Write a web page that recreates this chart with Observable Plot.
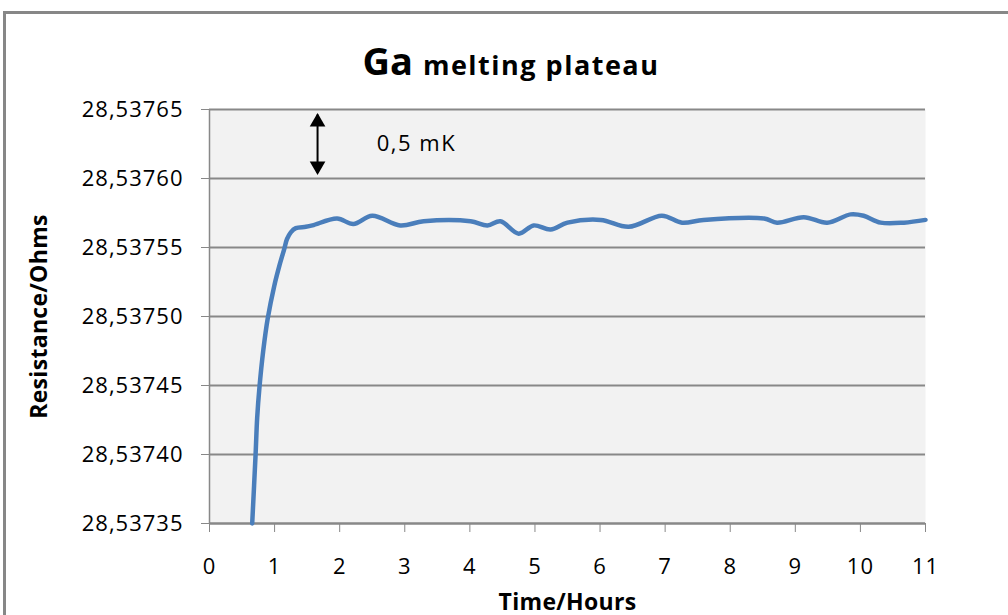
<!DOCTYPE html>
<html>
<head>
<meta charset="utf-8">
<script src="https://cdn.jsdelivr.net/npm/d3@7"></script>
<script src="https://cdn.jsdelivr.net/npm/@observablehq/plot@0.6"></script>
<style>
  html, body { margin: 0; padding: 0; background: #fff; }
  #wrap { position: relative; width: 1008px; height: 615px; overflow: hidden; font-family: "Open Sans", sans-serif; }
  #border { position: absolute; left: 3px; top: 11px; width: 1200px; height: 800px; border-left: 3px solid #878787; border-top: 3px solid #878787; box-sizing: border-box; }
  #title { position: absolute; left: 0; width: 1022px; top: 41px; text-align: center; color: #000; font-size: 38px; line-height: 1; white-space: nowrap; }
  #title .ga { font-size: 38px; font-weight: 700; }
  #title .rest { font-size: 27px; font-weight: 700; letter-spacing: 1.5px; }
  #chart { position: absolute; left: 0; top: 0; }
  #chart g[aria-label="y-axis label"] text, #chart g[aria-label="x-axis label"] text { font-weight: 700; font-size: 23px; letter-spacing: 0.3px; }
  #chart g[aria-label="y-axis tick label"] text, #chart g[aria-label="x-axis tick label"] text { letter-spacing: 1px; }
  #chart g[aria-label="text"] text { letter-spacing: 1.5px; }
</style>
</head>
<body>
<div id="wrap">
  <div id="border"></div>
  <div id="chart"></div>
  <div id="title"><span class="ga">Ga</span> <span class="rest">melting plateau</span></div>
</div>
<script>
// Time in hours
const hours = [0.656, 0.707, 0.733, 0.768, 0.825, 0.896, 0.994, 1.075, 1.149, 1.19, 1.249, 1.326, 1.48, 1.582, 1.96, 2.21, 2.50, 2.93, 3.29, 4.01, 4.27, 4.47, 4.75, 4.98, 5.24, 5.50, 6.01, 6.44, 6.95, 7.26, 7.59, 8.52, 8.72, 9.13, 9.49, 9.85, 10.05, 10.31, 10.67, 11.0];
// Resistance in ohms
const resistance = [28.53735, 28.537399, 28.537427, 28.537449, 28.537475, 28.537499, 28.537522, 28.537537, 28.537549, 28.537556, 28.537561, 28.537564, 28.537565, 28.537566, 28.537571, 28.537567, 28.537573, 28.537566, 28.537569, 28.537569, 28.537566, 28.537569, 28.53756, 28.537566, 28.537563, 28.537568, 28.53757, 28.537565, 28.537573, 28.537568, 28.53757, 28.537571, 28.537568, 28.537572, 28.537568, 28.537574, 28.537573, 28.537568, 28.537568, 28.53757];

const xTicks = [0, 1, 2, 3, 4, 5, 6, 7, 8, 9, 10, 11];
const yTicks = [28.53735, 28.53740, 28.53745, 28.53750, 28.53755, 28.53760, 28.53765];

// Annotation: 0,5 mK span arrow
const arrowX = [1.66];
const arrowTop = [28.537646];
const arrowBottom = [28.537604];
const arrowHeadUp = [28.537641];
const arrowHeadDown = [28.537609];
const noteLabel = ["0,5 mK"];
const noteX = [3.18];
const noteY = [28.537625];

const data = hours.map((h, i) => ({h, r: resistance[i]}));
const fmt = d => d.toFixed(5).replace(".", ",");

const chart = Plot.plot({
  width: 1008,
  height: 615,
  marginLeft: 209,
  marginRight: 83,
  marginTop: 109,
  marginBottom: 92,
  style: { background: "transparent", fontFamily: "'Open Sans', sans-serif", fontSize: "22px", color: "#000" },
  x: { domain: [0, 11] },
  y: { domain: [28.53735, 28.53765] },
  marks: [
    Plot.frame({ fill: "#f2f2f2", stroke: null }),
    Plot.gridY(yTicks, { stroke: "#888888", strokeOpacity: 1, strokeWidth: 2 }),
    Plot.ruleX([0], { stroke: "#888888", strokeWidth: 1.5 }),
    Plot.ruleY([28.53735], { stroke: "#888888", strokeWidth: 2 }),
    Plot.axisY(yTicks, {
      tickSize: 8, tickPadding: 18, tickFormat: fmt, stroke: "#888888", fill: "#000", fontSize: 22,
      label: "Resistance/Ohms", labelAnchor: "center", labelArrow: "none", labelOffset: 179
    }),
    Plot.axisX(xTicks, {
      tickSize: 9, tickPadding: 26, tickFormat: d => String(d), stroke: "#888888", fill: "#000", fontSize: 22,
      label: "Time/Hours", labelAnchor: "center", labelArrow: "none", labelOffset: 86
    }),
    Plot.line(data, { x: "h", y: "r", stroke: "#4a7ebb", strokeWidth: 4.5, curve: "catmull-rom" }),
    Plot.ruleX(arrowX, { y1: arrowTop, y2: arrowBottom, stroke: "#000", strokeWidth: 2 }),
    Plot.dot(arrowX, { x: d => d, y: arrowHeadUp, symbol: "triangle", r: 5.8, fill: "#000", stroke: null }),
    Plot.dot(arrowX, { x: d => d, y: arrowHeadDown, symbol: "triangle", r: 5.8, fill: "#000", stroke: null, rotate: 180 }),
    Plot.text(noteLabel, { x: noteX, y: noteY, text: d => d, fontSize: 22, fill: "#000" })
  ]
});
document.getElementById("chart").appendChild(chart);
</script>
</body>
</html>
